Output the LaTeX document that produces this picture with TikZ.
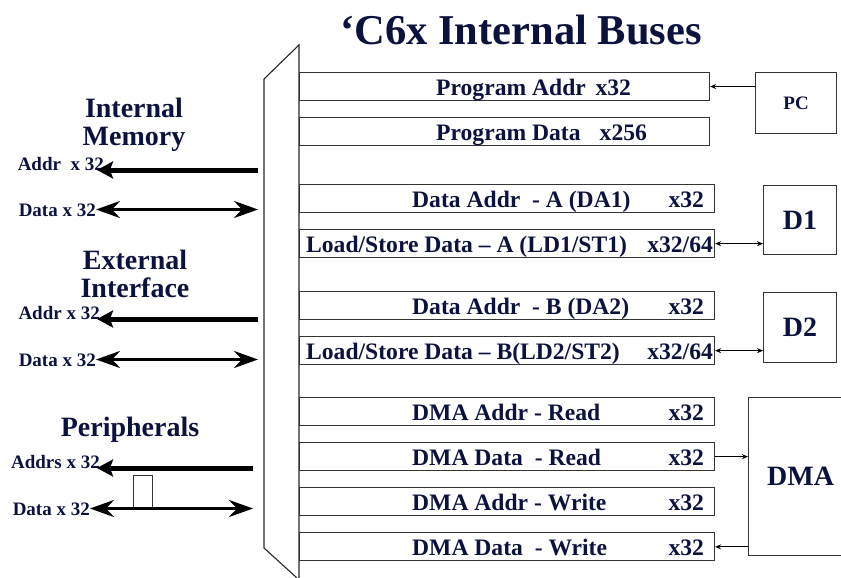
\documentclass[tikz,border=0pt]{standalone}
\usepackage{fontspec}
\setmainfont{Liberation Serif}
\usepackage{xcolor}
\usepackage{tikz}
\usetikzlibrary{positioning, arrows.meta, calc}
\definecolor{slidenavy}{RGB}{12,18,62}

\begin{document}
\begin{tikzpicture}[
    x = 1pt, y = -1pt, text = slidenavy,
    bus/.style = {
      rectangle, draw = black!80, line width = 1.1pt,
      inner sep = 0pt, minimum height = 28pt, anchor = north west
    },
    unit/.style = {
      rectangle, draw = black!80, line width = 1.1pt,
      inner sep = 0pt, anchor = north west,
      font = \fontsize{28}{28}\selectfont\bfseries
    },
    buslabel/.style = {
      inner sep = 0pt, text height = 16pt, text depth = 5pt, yshift = -3pt,
      font = \fontsize{23.6}{23.6}\selectfont\bfseries
    },
    sidelabel/.style = {
      inner sep = 0pt, text height = 13pt, text depth = 0pt, anchor = base east,
      font = \fontsize{19}{19}\selectfont\bfseries
    },
    group/.style = {
      align = center, inner sep = 0pt,
      font = \fontsize{28}{28}\selectfont\bfseries
    },
    mux/.style = {
      draw = black!85, line width = 1.1pt
    },
    addrbus/.style = {
      line width = 5pt, ->,
      > = {Stealth[length = 16pt, width = 17pt, inset = 3pt]}
    },
    databus/.style = {
      line width = 3.6pt, <->,
      > = {Stealth[length = 24pt, width = 17pt, inset = 8pt]}
    },
    link/.style = {
      line width = 1.2pt, > = {Stealth[length = 6pt, width = 5pt]}
    },
    ]

    \useasboundingbox (0,0) rectangle (841,578);

    % title
    \node  [font = \fontsize{42.5}{42.5}\selectfont\bfseries]  (title)  at (521,30)  {‘C6x Internal Buses};

    % draw the multiplexer outline
    \draw  [mux]  (264,79) -- (299,45) -- (299,578);
    \draw  [mux]  (264,79) -- (264,548) -- (297,578);
    \coordinate  (muxL)  at (258,0);
    \coordinate  (muxP)  at (253,0);

    % draw program buses
    \node  [bus, minimum width = 410pt]  (pa)  at (299,72)  {};
    \node  [bus, minimum width = 410pt]  (pd)  at (299,117)  {};
    \node  [buslabel, right = 137pt of pa.west]  (paName)  {Program Addr};
    \node  [buslabel, left = 79pt of pa.east]  (paWidth)  {x32};
    \node  [buslabel, right = 137pt of pd.west]  (pdName)  {Program Data};
    \node  [buslabel, left = 63pt of pd.east]  (pdWidth)  {x256};

    % draw data buses A and B
    \node  [bus, minimum width = 415pt]  (daA)  at (299,184)  {};
    \node  [bus, minimum width = 415pt]  (lsA)  [below = 16pt of daA]  {};
    \node  [bus, minimum width = 415pt]  (daB)  at (299,291)  {};
    \node  [bus, minimum width = 415pt]  (lsB)  [below = 16pt of daB]  {};
    \node  [buslabel, right = 113pt of daA.west]  (daAName)  {Data Addr~ - A (DA1)};
    \node  [buslabel, left = 11pt of daA.east]  (daAWidth)  {x32};
    \node  [buslabel, right = 7pt of lsA.west]  (lsAName)  {Load/Store Data – A (LD1/ST1)};
    \node  [buslabel, left = 2pt of lsA.east]  (lsAWidth)  {x32/64};
    \node  [buslabel, right = 113pt of daB.west]  (daBName)  {Data Addr~ - B (DA2)};
    \node  [buslabel, left = 11pt of daB.east]  (daBWidth)  {x32};
    \node  [buslabel, right = 7pt of lsB.west]  (lsBName)  {Load/Store Data – B(LD2/ST2)};
    \node  [buslabel, left = 2pt of lsB.east]  (lsBWidth)  {x32/64};

    % draw DMA buses
    \node  [bus, minimum width = 415pt]  (dmaAR)  at (299,397)  {};
    \foreach \i [remember = \i as \lasti (initially AR)] in {DR, AW, DW}
    \node  [bus, minimum width = 415pt]  (dma\i)  [below = 16pt of dma\lasti]  {};

    \foreach \i/\txt in {AR/{DMA Addr - Read}, DR/{DMA Data~ - Read}, AW/{DMA Addr - Write}, DW/{DMA Data~ - Write}}
    {
    \node  [buslabel, right = 113pt of dma\i.west]  (dmaName\i)  {\txt};
    \node  [buslabel, left = 11pt of dma\i.east]  (dmaWidth\i)  {x32};
    }

    % draw units on the right
    \node  [unit, minimum width = 81pt, minimum height = 61pt,
      font = \fontsize{19}{19}\selectfont\bfseries]  (pc)  at (755,72)  {PC};
    \node  [unit, minimum width = 73pt, minimum height = 69pt]  (d1)  at (763,185)  {D1};
    \node  [unit, minimum width = 73pt, minimum height = 70pt]  (d2)  at (763,292)  {D2};
    \node  [unit, minimum width = 104pt, minimum height = 158pt]  (dma)  at (748,397)  {DMA};

    % paths between units and buses
    \draw  [link, ->]  (pc.west |- pa.east)  to  (pa.east);
    \draw  [link, <->]  (lsA.east)  to  (lsA.east -| d1.west);
    \draw  [link, <->]  (lsB.east)  to  (lsB.east -| d2.west);
    \draw  [link, ->]  (dmaDR.east)  to  (dmaDR.east -| dma.west);
    \draw  [link, <-]  (dmaDW.east)  to  (dmaDW.east -| dma.west);

    % external buses on the left
    \node  [group]  (intMem)  at (134,125)  {Internal\\Memory};
    \node  [sidelabel]  (imAddr)  at (104,170)  {Addr~~x 32};
    \node  [sidelabel]  (imData)  at (96,216)  {Data x 32};

    \node  [group]  (extIf)  at (135,274)  {External\\Interface};
    \node  [sidelabel]  (eiAddr)  at (100,319)  {Addr x 32};
    \node  [sidelabel]  (eiData)  at (96,366)  {Data x 32};

    \node  [group]  (periph)  at (130,430)  {Peripherals};
    \node  [sidelabel]  (pAddr)  at (100,468)  {Addrs x 32};
    \node  [sidelabel]  (pData)  at (90,515)  {Data x 32};
    \node  [rectangle, draw = black!80, line width = 1pt, fill = white,
      minimum width = 19pt, minimum height = 33pt, inner sep = 0pt,
      anchor = north west]  (pGate)  at (133,475)  {};

    \draw  [addrbus, shorten >= -7pt]  (imAddr.base east -| muxL)  to  (imAddr.base east);
    \draw  [databus]  (imData.east)  to  (imData.east -| muxL);
    \draw  [addrbus, shorten >= -3pt]  (eiAddr.base east -| muxL)  to  (eiAddr.base east);
    \draw  [databus]  (eiData.east)  to  (eiData.east -| muxL);
    \draw  [addrbus, shorten >= -3pt]  (pAddr.base east -| muxP)  to  (pAddr.base east);
    \draw  [databus]  (pData.east)  to  (pData.east -| muxP);

\end{tikzpicture}
\end{document}
